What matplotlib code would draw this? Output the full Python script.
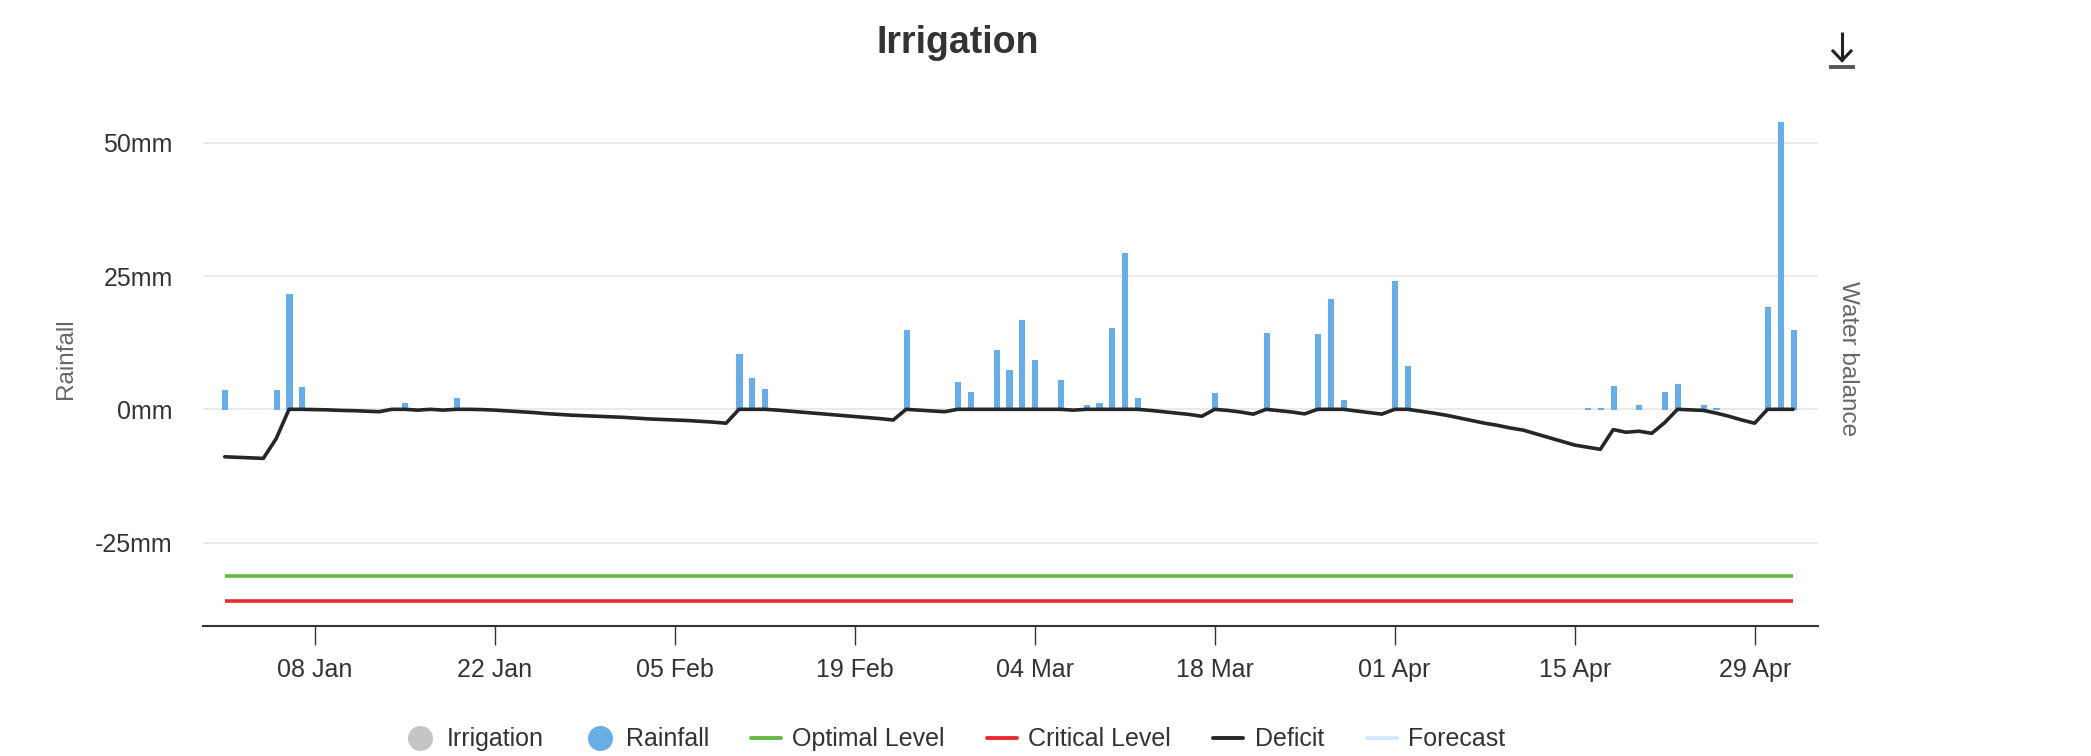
import numpy as np
import matplotlib
matplotlib.use('Agg')
import matplotlib.pyplot as plt
import matplotlib.dates as mdates
from matplotlib.lines import Line2D

plt.rcParams['font.family'] = ['Liberation Sans', 'DejaVu Sans']

# ---------------- data ----------------
days = np.arange(np.datetime64('2024-01-01'), np.datetime64('2024-05-03'))

deficit_jan = [-8.9, -9.0, -9.1, -9.2, -5.5, 0.0, 0.0, -0.05, -0.1, -0.2, -0.25, -0.35, -0.45, 0.0, 0.0,
               -0.15, 0.0, -0.15, 0.0, 0.0, -0.05, -0.15, -0.3, -0.45, -0.6, -0.8, -0.95, -1.1, -1.2, -1.3, -1.4]
deficit_feb = [-1.5, -1.65, -1.8, -1.9, -2.0, -2.1, -2.25, -2.4, -2.6, 0.0, 0.0, 0.0, -0.15, -0.35, -0.55,
               -0.75, -0.95, -1.15, -1.35, -1.55, -1.75, -2.0, 0.0, -0.15, -0.3, -0.45, 0.0, 0.0, 0.0]
deficit_mar = [0.0, 0.0, 0.0, 0.0, 0.0, 0.0, -0.15, 0.0, 0.0, 0.0, 0.0, 0.0, -0.2, -0.45, -0.7, -0.95,
               -1.3, 0.0, -0.2, -0.5, -0.9, 0.0, -0.25, -0.5, -0.85, 0.0, 0.0, 0.0, -0.3, -0.6, -0.9]
deficit_apr = [0.0, 0.0, -0.35, -0.7, -1.1, -1.6, -2.1, -2.6, -3.0, -3.5, -3.9, -4.6, -5.3, -6.0, -6.7,
               -7.1, -7.5, -3.8, -4.3, -4.1, -4.5, -2.5, 0.0, -0.1, -0.2, -0.7, -1.3, -2.0, -2.6, 0.0]
deficit_may = [0.0, 0.0]
deficit = deficit_jan + deficit_feb + deficit_mar + deficit_apr + deficit_may

rain_dates = np.array(['2024-01-01', '2024-01-05', '2024-01-06', '2024-01-07', '2024-01-15', '2024-01-19',
                       '2024-02-10', '2024-02-11', '2024-02-12', '2024-02-23', '2024-02-27', '2024-02-28',
                       '2024-03-01', '2024-03-02', '2024-03-03', '2024-03-04', '2024-03-06', '2024-03-08',
                       '2024-03-09', '2024-03-10', '2024-03-11', '2024-03-12', '2024-03-18', '2024-03-22',
                       '2024-03-26', '2024-03-27', '2024-03-28', '2024-04-01', '2024-04-02', '2024-04-16',
                       '2024-04-17', '2024-04-18', '2024-04-20', '2024-04-22', '2024-04-23', '2024-04-25',
                       '2024-04-26', '2024-04-30', '2024-05-01', '2024-05-02'], dtype='datetime64[D]')
rain_mm = [3.6, 3.6, 21.6, 4.1, 1.2, 2.2,
           10.4, 5.9, 3.75, 14.9, 5.2, 3.3,
           11.1, 7.4, 16.7, 9.2, 5.5, 0.8,
           1.1, 15.2, 29.4, 2.2, 3.0, 14.4,
           14.1, 20.7, 1.75, 24.1, 8.1, 0.3,
           0.3, 4.4, 0.8, 3.3, 4.75, 0.8,
           0.3, 19.2, 53.8, 14.9]

optimal_level = -31.3
critical_level = -35.9

tick_dates = np.array(['2024-01-08', '2024-01-22', '2024-02-05', '2024-02-19', '2024-03-04',
                       '2024-03-18', '2024-04-01', '2024-04-15', '2024-04-29'], dtype='datetime64[D]')
tick_labels = ['08 Jan', '22 Jan', '05 Feb', '19 Feb', '04 Mar', '18 Mar', '01 Apr', '15 Apr', '29 Apr']
y_ticks = [-25, 0, 25, 50]
y_tick_labels = ['-25mm', '0mm', '25mm', '50mm']
legend_labels = ['Irrigation', 'Rainfall', 'Optimal Level', 'Critical Level', 'Deficit', 'Forecast']

# ---------------- style ----------------
C_RAIN = '#6aade4'
C_IRR = '#c4c4c4'
C_OPT = '#62b946'
C_CRIT = '#ea2a2f'
C_DEF = '#262626'
C_FORE = '#d4e9f9'
C_TXT = '#333333'
C_GRID = '#e6e6e6'

W, H = 2091, 756
fig = plt.figure(figsize=(W / 100, H / 100), dpi=100)

px_left, px_right, px_top, px_bottom = 203.4, 1818.4, 110.7, 626.0
ax = fig.add_axes([px_left / W, 1 - px_bottom / H, (px_right - px_left) / W, (px_bottom - px_top) / H])

d0 = mdates.date2num(days[0])
ax.set_xlim(d0 - 1.66, d0 + 123.96)
ax.set_ylim(-40.63, 56)

ax.bar(rain_dates, rain_mm, width=0.4, color=C_RAIN, edgecolor=C_RAIN, linewidth=0.8,
       joinstyle='round', zorder=2)
ax.hlines(optimal_level, days[0], days[-1], color=C_OPT, linewidth=2.6, zorder=3)
ax.hlines(critical_level, days[0], days[-1], color=C_CRIT, linewidth=2.6, zorder=3)
ax.plot(days, deficit, color=C_DEF, linewidth=2.6, solid_joinstyle='round', solid_capstyle='round', zorder=4)

ax.set_yticks(y_ticks)
ax.set_yticklabels(y_tick_labels)
ax.set_xticks(tick_dates)
ax.set_xticklabels(tick_labels)
ax.grid(axis='y', color=C_GRID, linewidth=1.2, zorder=0)
ax.set_axisbelow(True)
for s in ['top', 'left', 'right']:
    ax.spines[s].set_visible(False)
ax.spines['bottom'].set_color(C_TXT)
ax.spines['bottom'].set_linewidth(1.5)
ax.tick_params(axis='y', length=0, pad=22, labelsize=18, labelcolor=C_TXT)
ax.tick_params(axis='x', length=13.7, width=1.0, color=C_TXT, pad=9.5, labelsize=18, labelcolor=C_TXT)

# axis titles
fig.text(66 / W, 1 - 359 / H, 'Rainfall', rotation=90, ha='center', va='center', fontsize=17.5, color='#666666')
fig.text(1848 / W, 1 - 359 / H, 'Water balance', rotation=270, ha='center', va='center', fontsize=17.5,
         color='#666666')

# title
fig.text(957.5 / W, 1 - 53 / H, 'Irrigation', ha='center', va='baseline', fontsize=27, fontweight='bold',
         color=C_TXT)

# download icon
def fl(xs, ys, **kw):
    fig.add_artist(Line2D([x / W for x in xs], [1 - y / H for y in ys], transform=fig.transFigure, **kw))

fl([1842, 1842], [32, 61], color='#222222', linewidth=2.2, solid_capstyle='butt')
fl([1833, 1842, 1851], [51, 60.5, 51], color='#222222', linewidth=2.2, solid_joinstyle='miter')
fl([1829, 1855], [66.5, 66.5], color='#555555', linewidth=2.8, solid_capstyle='butt')

# legend
ly = 737.5
lb = 746
items = [
    ('circle', C_IRR, 420, 446.5),
    ('circle', C_RAIN, 600, 626.5),
    ('line', C_OPT, (751, 781), 791.7),
    ('line', C_CRIT, (987, 1017), 1028.3),
    ('line', C_DEF, (1213, 1243), 1255),
    ('line', C_FORE, (1367, 1397), 1408.3),
]
for (kind, col, pos, tx), lab in zip(items, legend_labels):
    if kind == 'circle':
        fl([pos], [ly], marker='o', markersize=17, color=col, linestyle='none')
    else:
        fl(list(pos), [ly, ly], color=col, linewidth=2.8, solid_capstyle='round')
    fig.text(tx / W, 1 - lb / H, lab, ha='left', va='baseline', fontsize=18, color=C_TXT)

fig.savefig('out.png', dpi=100, facecolor='white')
